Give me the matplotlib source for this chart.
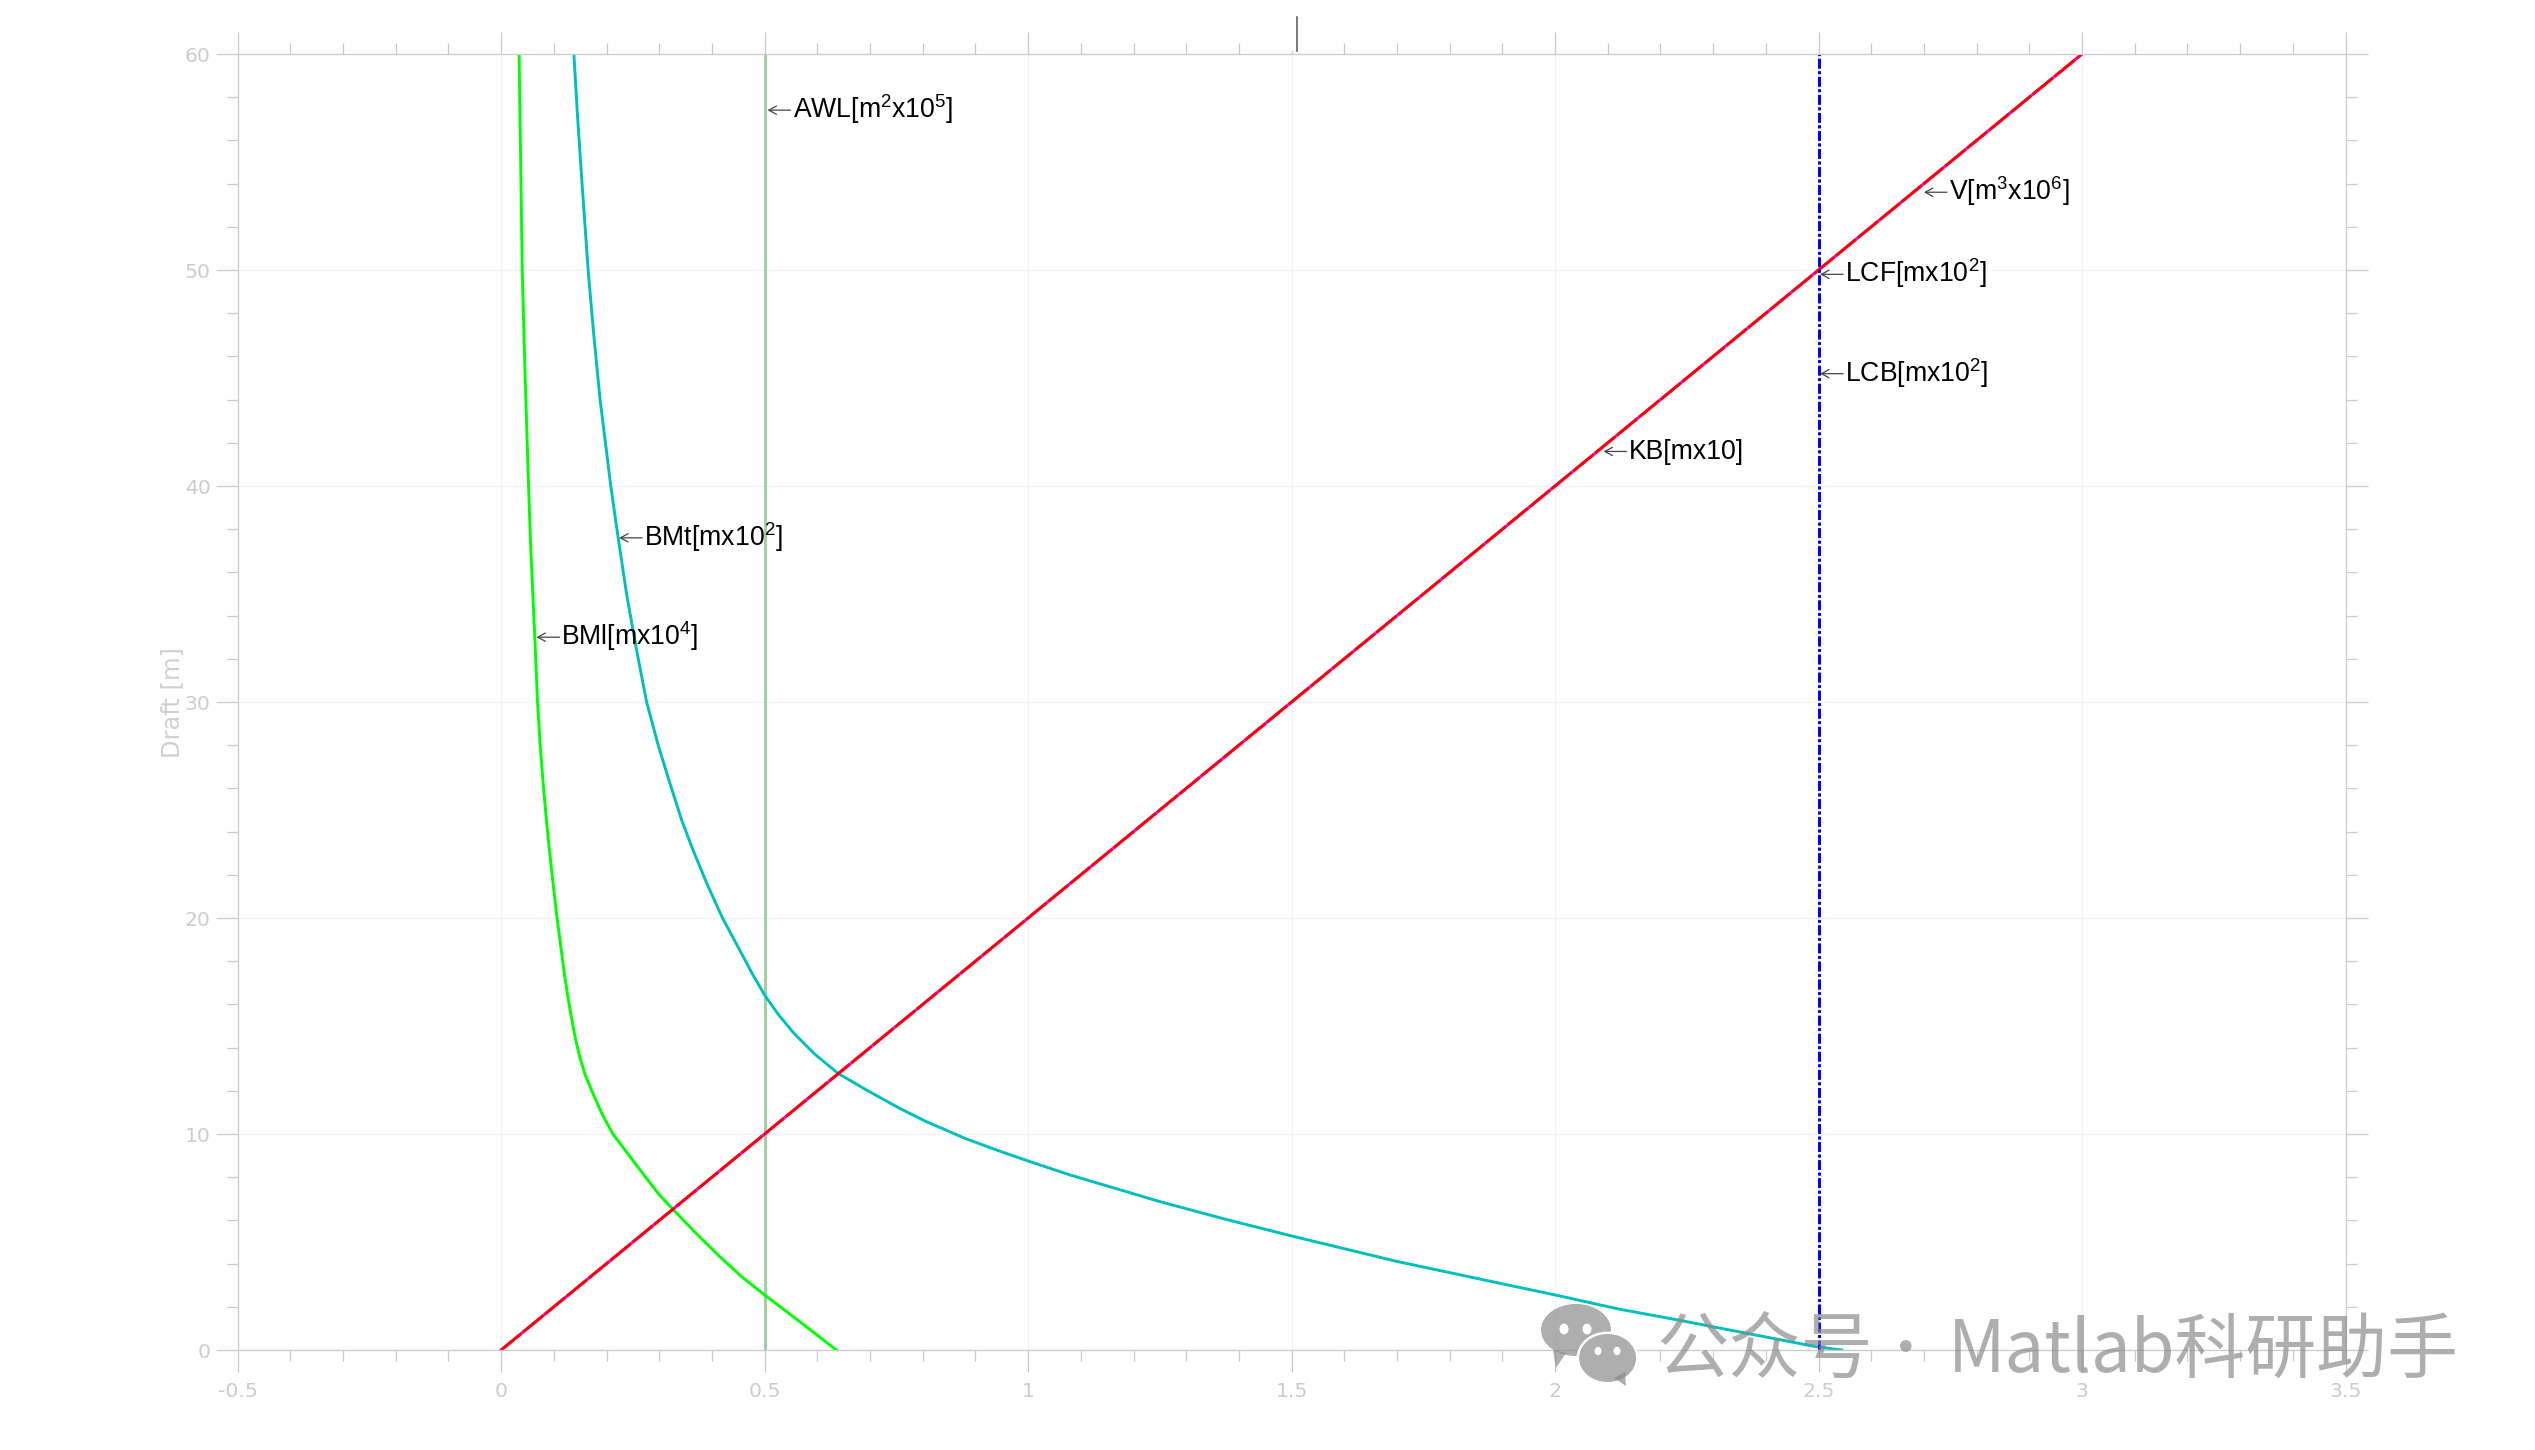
import numpy as np
import matplotlib
matplotlib.use("Agg")
import matplotlib.pyplot as plt
from matplotlib.lines import Line2D
from matplotlib.patches import Ellipse, Polygon, Rectangle
from matplotlib.transforms import IdentityTransform

W, H = 2535, 1450

# values
draft_bmt = [60, 57, 54, 50, 47, 44, 40, 37.6, 35, 32.4, 30, 28, 26.25, 24.5, 23.15, 21.5, 20, 18.5, 17.4, 16.43,
             15.5, 14.65, 13.7, 12.81, 12.04, 11.19, 10.57, 9.8, 9.26, 8.75, 8.1, 7.45, 6.87, 6.05, 5.28, 4.1,
             3.09, 2.55, 1.9, 1.39, 0.8, 0.15, 0]
bmt = [0.138, 0.1452, 0.1535, 0.165, 0.1757, 0.1877, 0.208, 0.222, 0.238, 0.257, 0.276, 0.298, 0.32, 0.343, 0.364,
       0.392, 0.42, 0.453, 0.477, 0.5, 0.527, 0.556, 0.595, 0.639, 0.693, 0.756, 0.807, 0.88, 0.94, 1.0, 1.08, 1.17,
       1.25, 1.375, 1.5, 1.7, 1.895, 2.0, 2.12, 2.233, 2.358, 2.496, 2.544]

draft_bml = [60, 55, 50, 45, 40, 37.2, 33, 30, 28, 26.25, 24.5, 23.15, 21.5, 20, 18.52, 17.4, 16.43, 15.43, 14.4,
             13.58, 12.7, 11.88, 10.9, 10, 9, 8.02, 7.2, 6.51, 5.4, 4.4, 3.4, 2.55, 1.25, 0]
bml = [0.034, 0.037, 0.04, 0.0455, 0.052, 0.056, 0.0638, 0.069, 0.074, 0.0796, 0.086, 0.0915, 0.099, 0.106, 0.114,
       0.12, 0.126, 0.133, 0.141, 0.149, 0.16, 0.174, 0.192, 0.212, 0.243, 0.2735, 0.2995, 0.326, 0.37, 0.4115,
       0.456, 0.5, 0.57, 0.636]

draft_lin = [0, 60]
vol = [0, 3]
kb = [0, 3]
awl = [0.5, 0.5]
lcf = [2.5, 2.5]
lcb = [2.5, 2.5]

labels = ["AWL[m$^{2}$x10$^{5}$]", "V[m$^{3}$x10$^{6}$]", "LCF[mx10$^{2}$]", "LCB[mx10$^{2}$]",
          "KB[mx10]", "BMt[mx10$^{2}$]", "BMl[mx10$^{4}$]"]
label_x = [0.5055, 2.70, 2.503, 2.503, 2.092, 0.224, 0.067]
label_y = [57.4, 53.6, 49.8, 45.2, 41.6, 37.6, 33.0]

xticks = [-0.5, 0, 0.5, 1, 1.5, 2, 2.5, 3, 3.5]
xticklabels = ["-0.5", "0", "0.5", "1", "1.5", "2", "2.5", "3", "3.5"]
yticks = [0, 10, 20, 30, 40, 50, 60]

plt.rcParams["font.family"] = ["Liberation Sans", "DejaVu Sans"]
plt.rcParams["mathtext.fontset"] = "custom"
plt.rcParams["mathtext.rm"] = "Liberation Sans"
plt.rcParams["mathtext.default"] = "rm"

fig = plt.figure(figsize=(W / 100, H / 100), dpi=100)
ax = fig.add_axes([237.7 / W, 100 / H, 2107.8 / W, 1296 / H])

ax.plot(awl, draft_lin, color="#9fd09f", lw=2.1)
ax.plot(bml, draft_bml, color="#00ff00", lw=2.1)
ax.plot(bmt, draft_bmt, color="#00bfbf", lw=2.1)
ax.plot(vol, draft_lin, color="#ff00ff", lw=2.1)
ax.plot(kb, draft_lin, color="#ff0000", lw=2.1, dashes=(9, 0.7))
ax.plot(lcf, draft_lin, color="#0000ff", lw=2.0, dashes=(3.5, 1, 1, 1))
ax.plot(lcb, draft_lin, color="#0000ff", lw=2.0, dashes=(3.5, 1, 1, 1))

for lab, xv, yv in zip(labels, label_x, label_y):
    ax.annotate("", xy=(xv, yv), xytext=(23, 0), textcoords="offset pixels",
                arrowprops=dict(arrowstyle="->,head_length=0.55,head_width=0.3", color="#444444", lw=0.9,
                                shrinkA=0, shrinkB=0))
    ax.annotate(lab, xy=(xv, yv), xytext=(25, -8), textcoords="offset pixels", fontsize=19.2,
                color="black", ha="left", va="baseline")

ax.set_xlim(-0.5, 3.5)
ax.set_ylim(0, 60)
ax.set_xticks(xticks)
ax.set_xticklabels(xticklabels)
ax.set_yticks(yticks)
ax.set_xticks(np.arange(-0.5, 3.51, 0.1), minor=True)
ax.set_yticks(np.arange(0, 60.1, 2), minor=True)
ax.grid(True, which="major", color="#f2f2f2", lw=0.8)
ax.set_axisbelow(True)

edge = "#cbcbcb"
for s in ax.spines.values():
    s.set_color(edge)
    s.set_linewidth(0.9)
ax.tick_params(which="major", direction="out", length=15.8, width=0.9, color=edge, top=True, right=True,
               labelcolor="#cccccc", labelsize=14.7)
ax.tick_params(axis="x", which="major", pad=7)
ax.tick_params(axis="y", which="major", pad=3.6)
ax.tick_params(which="minor", direction="out", length=7.9, width=0.9, color=edge, top=True, right=True)
for t in ax.get_xticklabels() + ax.get_yticklabels():
    t.set_family("DejaVu Sans")

ax.set_ylabel("Draft [m]", family="DejaVu Sans", fontsize=17.4, color="#d0d0d0")
ax.yaxis.set_label_coords(-0.0255, 0.5)

# small stray mark at the top of the frame
tr = IdentityTransform()
fig.add_artist(Rectangle((1285, H - 51), 20, 34, transform=tr, facecolor="white", edgecolor="none", zorder=5))
fig.add_artist(Line2D([1296.7, 1296.7], [H - 51, H - 17], transform=tr, color="#555555", lw=1.1, zorder=6))

# watermark
wm = "#888888"
wa = 0.68
fig.add_artist(Ellipse((1576, H - 1330), 70, 52, transform=tr, facecolor=wm, alpha=wa, edgecolor="none", zorder=8))
fig.add_artist(Polygon([(1553, H - 1350), (1556, H - 1368), (1566, H - 1353)], transform=tr, facecolor=wm, alpha=wa,
                       edgecolor="none", zorder=8))
fig.add_artist(Ellipse((1607.6, H - 1358), 62, 53, transform=tr, facecolor="white", edgecolor="none", zorder=8.1))
fig.add_artist(Ellipse((1607.6, H - 1358), 57, 48, transform=tr, facecolor=wm, alpha=wa, edgecolor="none", zorder=8.2))
fig.add_artist(Polygon([(1614, H - 1378), (1626, H - 1386), (1625, H - 1372)], transform=tr, facecolor=wm, alpha=wa,
                       edgecolor="none", zorder=8.2))
for ex, ey, er in [(1564, 1329, 4.5), (1587, 1329, 4.5), (1598, 1351, 3.5), (1617, 1351, 3.5)]:
    fig.add_artist(Ellipse((ex, H - ey), er * 2, er * 2.4, transform=tr, facecolor="white", edgecolor="none",
                           zorder=8.3))
cjk = ["Noto Sans CJK SC", "DejaVu Sans"]
fig.text(1656 / W, 1 - 1351 / H, "公众号", family=cjk, fontsize=52, color=wm, alpha=wa, ha="left", va="center", zorder=8)
fig.text(1905 / W, 1 - 1351 / H, "·", family=cjk, fontsize=40, color=wm, alpha=wa, ha="center", va="center", zorder=8)
fig.text(1948 / W, 1 - 1351 / H, "Matlab科研助手", family=cjk, fontsize=51, color=wm, alpha=wa, ha="left", va="center",
         zorder=8)

fig.savefig("out.png", dpi=100)
